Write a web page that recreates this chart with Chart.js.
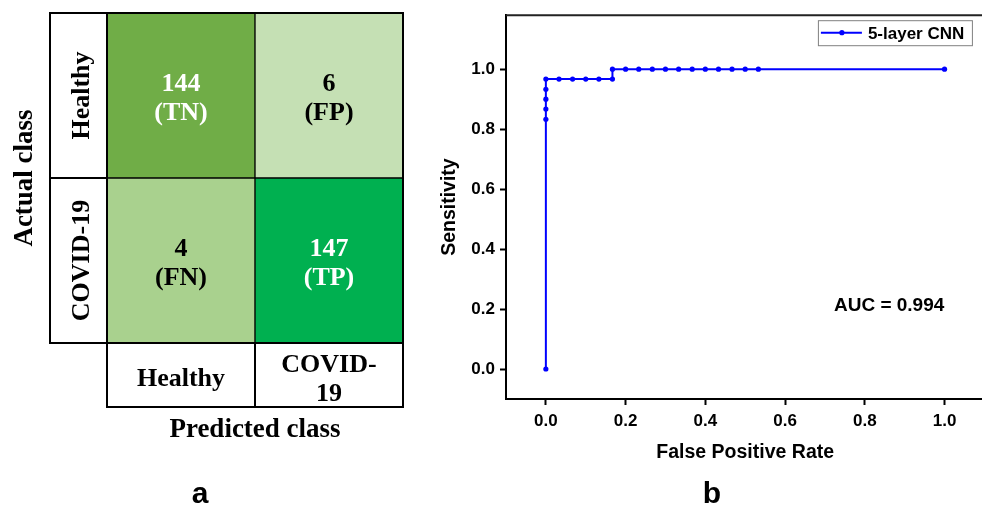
<!DOCTYPE html>
<html>
<head>
<meta charset="utf-8">
<script src="https://cdn.jsdelivr.net/npm/chart.js@4.4.0/dist/chart.umd.min.js"></script>
<style>
  html, body { margin: 0; padding: 0; background: #fff; overflow: hidden; width: 982px; height: 505px; }
  #cm { position: absolute; left: 0; top: 0; }
  #roc { position: absolute; left: 430px; top: 0; }
</style>
</head>
<body>
<canvas id="cm" width="430" height="505"></canvas>
<canvas id="roc" width="560" height="505"></canvas>
<script>
// panel a: confusion matrix (rows = actual, cols = predicted)
const classes = ["Healthy", "COVID-19"];
const predTickLines = [["Healthy"], ["COVID-", "19"]];
const counts = [[144, 6], [4, 147]];
const tags = [["TN", "FP"], ["FN", "TP"]];
const cellColors = [["#70AD47", "#C5E0B4"], ["#A9D18E", "#00B050"]];
const textColors = [["#ffffff", "#000000"], ["#000000", "#ffffff"]];

// panel b: ROC curve
const fpr = [0, 0, 0, 0, 0, 0, 0.033, 0.067, 0.1, 0.133, 0.167, 0.167, 0.2, 0.233, 0.267, 0.3, 0.333, 0.367, 0.4, 0.433, 0.467, 0.5, 0.533, 1.0];
const tpr = [0, 0.833, 0.867, 0.9, 0.933, 0.967, 0.967, 0.967, 0.967, 0.967, 0.967, 1, 1, 1, 1, 1, 1, 1, 1, 1, 1, 1, 1, 1];
const rocTicks = [0, 0.2, 0.4, 0.6, 0.8, 1.0];
const seriesName = "5-layer CNN";
const aucText = "AUC = 0.994";

const SERIF = "'Liberation Serif', 'Times New Roman', serif";
const SANS = "'Liberation Sans', Arial, sans-serif";
Chart.defaults.font.family = SANS;

const cmPlugin = {
  id: "cmText",
  afterDatasetsDraw(chart) {
    const ctx = chart.ctx;
    const area = chart.chartArea;
    const xs = chart.scales.x;
    ctx.save();
    ctx.font = "bold 26px " + SERIF;
    ctx.textAlign = "center";
    ctx.textBaseline = "alphabetic";
    const rowCenters = [];
    chart.data.datasets.forEach((ds, di) => {
      const r = ds.row;
      chart.getDatasetMeta(di).data.forEach((bar, c) => {
        const cy = (bar.y + bar.base) / 2;
        rowCenters[r] = cy;
        ctx.fillStyle = textColors[r][c];
        ctx.fillText(String(counts[r][c]), bar.x, cy - 5);
        ctx.fillText("(" + tags[r][c] + ")", bar.x, cy + 24.5);
      });
    });

    ctx.strokeStyle = "#000";
    ctx.lineWidth = 2;
    ctx.strokeRect(area.left, area.top, area.width, area.height);
    // actual class label column
    ctx.strokeRect(50, area.top, area.left - 50, area.height);
    ctx.beginPath();
    ctx.moveTo(50, (rowCenters[0] + rowCenters[1]) / 2);
    ctx.lineTo(area.left, (rowCenters[0] + rowCenters[1]) / 2);
    ctx.stroke();
    // predicted class label row
    const rowBottom = 407;
    ctx.strokeRect(area.left, area.bottom, area.width, rowBottom - area.bottom);
    ctx.beginPath();
    ctx.moveTo(xs.getPixelForValue(0.5), area.bottom);
    ctx.lineTo(xs.getPixelForValue(0.5), rowBottom);
    ctx.stroke();

    ctx.fillStyle = "#000";
    classes.forEach((name, r) => {
      ctx.save();
      ctx.translate(88.5, rowCenters[r]);
      ctx.rotate(-Math.PI / 2);
      ctx.fillText(name, 0, 0);
      ctx.restore();
    });
    const midLabel = (area.bottom + rowBottom) / 2 + 11;
    predTickLines.forEach((lines, c) => {
      const x = xs.getPixelForValue(c);
      lines.forEach((t, i) => {
        ctx.fillText(t, x, midLabel + (i - (lines.length - 1) / 2) * 29);
      });
    });

    ctx.font = "bold 27px " + SERIF;
    ctx.save();
    ctx.translate(31.5, (area.top + area.bottom) / 2);
    ctx.rotate(-Math.PI / 2);
    ctx.fillText("Actual class", 0, 0);
    ctx.restore();
    ctx.fillText("Predicted class", (area.left + area.right) / 2, 437);

    ctx.font = "bold 30px " + SANS;
    ctx.fillText("a", 200, 503);
    ctx.restore();
  }
};

new Chart(document.getElementById("cm"), {
  type: "bar",
  data: {
    labels: classes,
    datasets: [1, 0].map((r) => ({
      label: classes[r],
      row: r,
      data: [1, 1],
      backgroundColor: cellColors[r],
      borderColor: "#000",
      borderWidth: 1,
      borderSkipped: false,
      categoryPercentage: 1,
      barPercentage: 1,
    })),
  },
  options: {
    responsive: false,
    animation: false,
    devicePixelRatio: 1,
    layout: { padding: { left: 107, top: 13, right: 27, bottom: 162 } },
    plugins: { legend: { display: false }, tooltip: { enabled: false } },
    scales: {
      x: { display: false, stacked: true },
      y: { display: false, stacked: true, min: 0, max: 2 },
    },
  },
  plugins: [cmPlugin],
});

const rocPlugin = {
  id: "rocExtras",
  afterDraw(chart) {
    const ctx = chart.ctx;
    const area = chart.chartArea;
    const xs = chart.scales.x, ys = chart.scales.y;
    const ds = chart.data.datasets[0];
    ctx.save();
    ctx.strokeStyle = "#222";
    ctx.lineWidth = 2;
    ctx.beginPath();
    ctx.moveTo(area.left, area.top);
    ctx.lineTo(area.right, area.top);
    ctx.lineTo(area.right, area.bottom);
    ctx.stroke();

    // legend box
    const bw = 154, bh = 25;
    const bx = area.right - 12.5 - bw, by = area.top + 5;
    ctx.strokeStyle = "#808080";
    ctx.lineWidth = 1;
    ctx.strokeRect(bx + 0.5, by + 0.5, bw, bh);
    ctx.strokeStyle = ds.borderColor;
    ctx.lineWidth = 2;
    ctx.beginPath();
    ctx.moveTo(bx + 3, by + 12.5);
    ctx.lineTo(bx + 44, by + 12.5);
    ctx.stroke();
    ctx.fillStyle = ds.borderColor;
    ctx.beginPath();
    ctx.arc(bx + 24, by + 12.5, 2.6, 0, Math.PI * 2);
    ctx.fill();
    ctx.fillStyle = "#000";
    ctx.font = "bold 17px " + SANS;
    ctx.textAlign = "left";
    ctx.textBaseline = "alphabetic";
    ctx.fillText(ds.label, bx + 50, by + 19);

    ctx.font = "bold 19px " + SANS;
    ctx.textAlign = "center";
    ctx.fillText(aucText, xs.getPixelForValue(0.861), ys.getPixelForValue(0.193));

    ctx.font = "bold 30px " + SANS;
    ctx.fillText("b", 282, 503);
    ctx.restore();
  }
};

const tickFont = { size: 17, weight: "bold" };
const titleFont = { size: 19.5, weight: "bold" };

new Chart(document.getElementById("roc"), {
  type: "scatter",
  data: {
    datasets: [{
      label: seriesName,
      data: fpr.map((x, i) => ({ x: x, y: tpr[i] })),
      showLine: true,
      borderColor: "#0000FF",
      backgroundColor: "#0000FF",
      borderWidth: 2,
      pointRadius: 2.6,
      pointBorderWidth: 0,
      tension: 0,
    }],
  },
  options: {
    responsive: false,
    animation: false,
    devicePixelRatio: 1,
    layout: { padding: { left: 0, top: 15, right: 5.6, bottom: 36 } },
    plugins: { legend: { display: false }, tooltip: { enabled: false } },
    scales: {
      x: {
        type: "linear",
        min: -0.1,
        max: 1.1,
        afterBuildTicks: (s) => { s.ticks = rocTicks.map((v) => ({ value: v })); },
        afterFit: (s) => { s.height = 70; },
        ticks: { callback: (v) => v.toFixed(1), color: "#000", font: tickFont, padding: 6, maxRotation: 0 },
        grid: { drawOnChartArea: false, tickLength: 6, tickWidth: 2, tickColor: "#000" },
        border: { color: "#000", width: 2 },
        title: { display: true, text: "False Positive Rate", color: "#000", font: titleFont, padding: { top: 0, bottom: 5 } },
      },
      y: {
        type: "linear",
        min: -0.1,
        max: 1.18,
        afterBuildTicks: (s) => { s.ticks = rocTicks.map((v) => ({ value: v })); },
        afterFit: (s) => { s.width = 76; },
        ticks: { callback: (v) => v.toFixed(1), color: "#000", font: tickFont, padding: 5 },
        grid: { drawOnChartArea: false, tickLength: 6, tickWidth: 2, tickColor: "#000" },
        border: { color: "#000", width: 2 },
        title: { display: true, text: "Sensitivity", color: "#000", font: titleFont, padding: { top: 8, bottom: 0 } },
      },
    },
  },
  plugins: [rocPlugin],
});
</script>
</body>
</html>
